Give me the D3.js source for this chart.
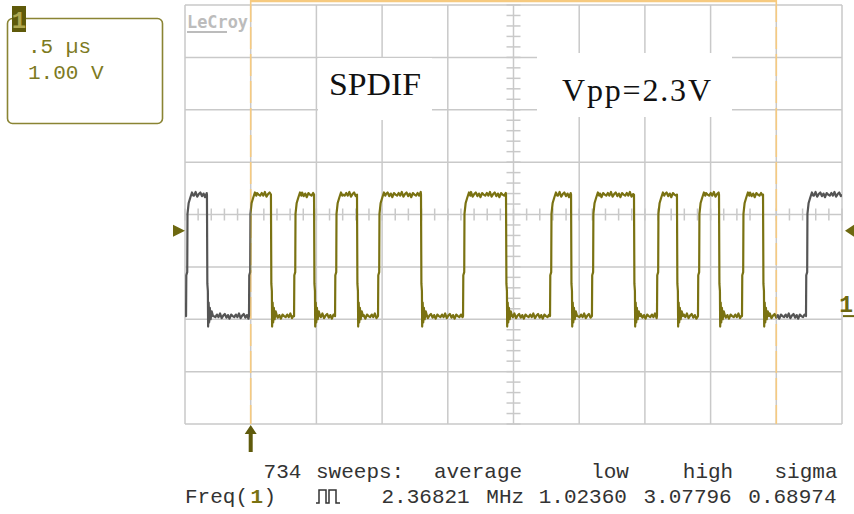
<!DOCTYPE html>
<html>
<head>
<meta charset="utf-8">
<script src="https://cdn.jsdelivr.net/npm/d3@7"></script>
<style>
  html, body { margin: 0; padding: 0; background: #fff; }
  svg { display: block; }
</style>
</head>
<body>
<svg id="scope" width="854" height="514"></svg>
<script>
// ---- Acquisition settings ----
const timePerDiv = 0.5;        // µs / div
const voltsPerDiv = 1.0;       // V / div
const hDivs = 10, vDivs = 8;
const channelOffset = -1.94;   // V, channel 1 ground position (div below centre)

// ---- SPDIF capture: logic levels and edge instants (µs) ----
const lowLevel = 0.0;          // V
const highLevel = 2.32;        // V
const startLevel = "low";
const edgeTimes = [0.008, 0.167, 0.487, 0.654, 0.830, 0.982, 1.142, 1.309,
                   1.469, 1.796, 2.116, 2.443, 2.778, 2.938, 3.097, 3.417,
                   3.592, 3.744, 3.904, 4.064, 4.239, 4.399, 4.726];

// edge shapes relative to the edge instant: [dt µs, volts]
const riseShape = [[0, 0.0], [0.002, 0.78], [0.009, 0.84], [0.011, 1.95],
                   [0.020, 2.16], [0.032, 2.26], [0.045, 2.36], [0.055, 2.30]];
const fallShape = [[0, 2.32], [0.003, 0.62], [0.007, 0.48], [0.009, -0.20],
                   [0.013, 0.26], [0.017, -0.12], [0.022, 0.16], [0.028, -0.06],
                   [0.036, 0.09], [0.046, 0.0]];
// residual ripple on the settled levels (V)
const flatRipple = [0.03, -0.02, 0.05, -0.04, 0.01, 0.04, -0.03, 0.02, -0.05, 0.03, 0.0, -0.02];

// cursors / trigger
const cursorTimes = [0.5, 4.5];    // µs
const triggerTime = 0.5;           // µs
const triggerLevel = 1.63;         // V

// ---- Readouts ----
const timebaseLabel = ".5 µs";
const voltsLabel = "1.00 V";
const titleLabel = "SPDIF";
const vppLabel = "Vpp=2.3V";
const statHeader = [[6, "734"], [10, "sweeps:"], [19, "average"], [31, "low"], [38, "high"], [45, "sigma"]];
const statValues = [[15, "2.36821"], [23, "MHz"], [27, "1.02360"], [35, "3.07796"], [43, "0.68974"]];

// ---- Layout ----
const gx0 = 185, gx1 = 842, gy0 = 5, gy1 = 424;
const svg = d3.select("#scope");
const olive = "#7a7212", gridCol = "#c9c9c9";

const x = d3.scaleLinear().domain([0, hDivs * timePerDiv]).range([gx0, gx1]);
const yDiv = d3.scaleLinear().domain([-vDivs / 2, vDivs / 2]).range([gy1, gy0]);
const yV = v => yDiv(v / voltsPerDiv + channelOffset);

// ---- Graticule ----
const grid = svg.append("g").attr("stroke", gridCol).attr("stroke-width", 1.5);
grid.selectAll("line.v").data(d3.range(0, hDivs + 1)).join("line")
  .attr("x1", d => x(d * timePerDiv)).attr("x2", d => x(d * timePerDiv))
  .attr("y1", gy0).attr("y2", gy1);
grid.selectAll("line.h").data(d3.range(-vDivs / 2, vDivs / 2 + 1)).join("line")
  .attr("x1", gx0).attr("x2", gx1)
  .attr("y1", d => yDiv(d)).attr("y2", d => yDiv(d));

// centre-axis minor ticks (5 per division)
const xc = x(hDivs * timePerDiv / 2), yc = yDiv(0);
grid.selectAll("line.tx").data(d3.range(0, hDivs * 5 + 1)).join("line")
  .attr("x1", d => x(d * timePerDiv / 5)).attr("x2", d => x(d * timePerDiv / 5))
  .attr("y1", yc - 6).attr("y2", yc + 6);
grid.selectAll("line.ty").data(d3.range(0, vDivs * 5 + 1)).join("line")
  .attr("x1", xc - 7).attr("x2", xc + 7)
  .attr("y1", d => yDiv(-vDivs / 2 + d / 5)).attr("y2", d => yDiv(-vDivs / 2 + d / 5));

// annotation panels
svg.append("rect").attr("x", 318).attr("y", 58).attr("width", 114).attr("height", 62).attr("fill", "#fff");
svg.append("rect").attr("x", 537).attr("y", 53).attr("width", 195).attr("height", 64).attr("fill", "#fff");

// LeCroy mark
svg.append("text").attr("x", 187).attr("y", 28).attr("textLength", 61)
  .attr("lengthAdjust", "spacingAndGlyphs")
  .attr("font-family", "DejaVu Sans Mono").attr("font-weight", "bold").attr("font-size", 17)
  .attr("fill", "#bcbcbc").text("LeCroy");
svg.append("rect").attr("x", 187).attr("y", 31).attr("width", 40).attr("height", 2).attr("fill", "#bcbcbc");

// ---- Cursors ----
svg.append("line").attr("x1", x(cursorTimes[0])).attr("x2", x(cursorTimes[1]))
  .attr("y1", 1).attr("y2", 1).attr("stroke", "#f6ca80").attr("stroke-width", 2.5);
svg.selectAll("line.cur").data(cursorTimes).join("line")
  .attr("x1", d => x(d)).attr("x2", d => x(d)).attr("y1", 0).attr("y2", gy1)
  .attr("stroke", "#f6ca80").attr("stroke-width", 1.6).attr("stroke-dasharray", "22,5");

// ---- Waveform ----
const pts = [];
let level = startLevel === "low" ? lowLevel : highLevel;
let tPrev = 0;
let rip = 0;
function flat(t0, t1, base) {
  for (let t = t0; t < t1; t += 0.012) {
    pts.push([t, base + flatRipple[rip++ % flatRipple.length]]);
  }
}
edgeTimes.forEach((te, i) => {
  flat(tPrev, te, level);
  const rising = level === lowLevel;
  const shape = rising ? riseShape : fallShape;
  shape.forEach(([dt, v]) => pts.push([te + dt, v]));
  tPrev = te + shape[shape.length - 1][0] + 0.006;
  level = rising ? highLevel : lowLevel;
});
flat(tPrev, hDivs * timePerDiv, level);
pts.push([hDivs * timePerDiv, level]);

const line = d3.line().x(d => x(d[0])).y(d => yV(d[1]));
const defs = svg.append("defs");
defs.append("clipPath").attr("id", "inside").append("rect")
  .attr("x", x(cursorTimes[0])).attr("y", 0)
  .attr("width", x(cursorTimes[1]) - x(cursorTimes[0])).attr("height", 514);
defs.append("clipPath").attr("id", "outside").append("path")
  .attr("d", `M${gx0 - 2},0H${x(cursorTimes[0])}V514H${gx0 - 2}Z M${x(cursorTimes[1])},0H${gx1 + 2}V514H${x(cursorTimes[1])}Z`);
defs.append("clipPath").attr("id", "screen").append("rect")
  .attr("x", gx0).attr("y", gy0).attr("width", gx1 - gx0).attr("height", gy1 - gy0);

const traces = svg.append("g").attr("clip-path", "url(#screen)");
traces.append("path").attr("d", line(pts)).attr("clip-path", "url(#outside)")
  .attr("fill", "none").attr("stroke", "#555555").attr("stroke-width", 2.2).attr("stroke-linejoin", "round");
traces.append("path").attr("d", line(pts)).attr("clip-path", "url(#inside)")
  .attr("fill", "none").attr("stroke", olive).attr("stroke-width", 2.2).attr("stroke-linejoin", "round");

// ---- Markers ----
const mk = "#6d6810";
const yt = yV(triggerLevel);
svg.append("path").attr("d", `M173,${yt - 6}L185,${yt}L173,${yt + 6}Z`).attr("fill", mk);
svg.append("path").attr("d", `M854,${yt - 6}L845,${yt}L854,${yt + 6}Z`).attr("fill", mk);
const yg = yV(0);
svg.append("text").attr("x", 853).attr("y", yg - 4).attr("text-anchor", "end")
  .attr("font-family", "Liberation Mono")
  .attr("font-size", 23).attr("font-weight", "bold").attr("fill", mk).text("1");
svg.append("rect").attr("x", 843).attr("y", yg - 1).attr("width", 11).attr("height", 2).attr("fill", mk);
const xtr = x(triggerTime);
svg.append("path").attr("d", `M${xtr},425L${xtr + 6},434L${xtr + 2},434L${xtr + 2},452L${xtr - 2},452L${xtr - 2},434L${xtr - 6},434Z`)
  .attr("fill", "#5f5a0c");

// ---- Channel descriptor box ----
svg.append("rect").attr("x", 7.5).attr("y", 18.5).attr("width", 155).attr("height", 105).attr("rx", 5)
  .attr("fill", "none").attr("stroke", "#8a8433").attr("stroke-width", 1.6);
svg.append("rect").attr("x", 12).attr("y", 6).attr("width", 14).attr("height", 26).attr("fill", "#5f5a0a");
svg.append("text").attr("x", 19).attr("y", 28).attr("text-anchor", "middle")
  .attr("font-family", "Liberation Mono").attr("font-weight", "bold").attr("font-size", 24)
  .attr("fill", "#b0a850").text("1");
const monoText = (g, xx, yy, s, fill) => g.append("text").attr("x", xx).attr("y", yy)
  .attr("font-family", "Liberation Mono").attr("font-size", 21).attr("fill", fill)
  .attr("xml:space", "preserve").text(s);
monoText(svg, 28, 53, timebaseLabel, "#7d7a22");
monoText(svg, 28, 79, voltsLabel, "#7d7a22");

// ---- Annotations ----
svg.append("text").attr("x", 329).attr("y", 95).attr("textLength", 92).attr("lengthAdjust", "spacingAndGlyphs")
  .attr("font-family", "Liberation Serif").attr("font-size", 32).attr("fill", "#111").text(titleLabel);
svg.append("text").attr("x", 562).attr("y", 101).attr("textLength", 149).attr("lengthAdjust", "spacing")
  .attr("font-family", "Liberation Serif").attr("font-size", 32).attr("fill", "#111").text(vppLabel);

// ---- Measurement readout ----
const cw = 13.1, tx0 = 185;
const stats = svg.append("g");
statHeader.forEach(([i, s]) => monoText(stats, tx0 + i * cw, 478, s, "#333"));
monoText(stats, tx0, 503, "Freq(", "#333");
monoText(stats, tx0 + 5 * cw, 503, "1", olive).attr("font-weight", "bold");
monoText(stats, tx0 + 6 * cw, 503, ")", "#333");
statValues.forEach(([i, s]) => monoText(stats, tx0 + i * cw, 503, s, "#333"));
// pulse-train glyph
const px0 = tx0 + 10 * cw;
stats.append("path")
  .attr("d", `M${px0},503H${px0 + 3}V490H${px0 + 10}V503H${px0 + 13}V490H${px0 + 20}V503H${px0 + 24}`)
  .attr("fill", "none").attr("stroke", "#333").attr("stroke-width", 1.5);
</script>
</body>
</html>
